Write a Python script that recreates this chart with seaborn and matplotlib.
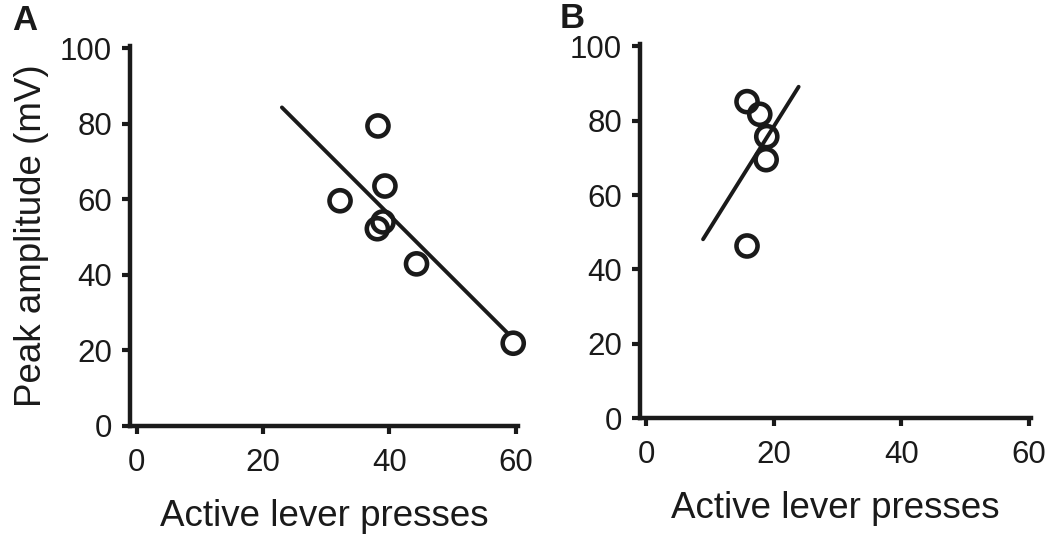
import seaborn as sns
import pandas as pd
import matplotlib.pyplot as plt

# panel A
a_presses = [38.2, 32.2, 39.3, 39.0, 38.1, 44.3, 59.6]
a_amplitude = [79.4, 59.6, 63.5, 54.0, 52.2, 42.9, 21.9]
a_fit_x = [23.0, 58.7]
a_fit_y = [84.3, 24.6]

# panel B
b_presses = [15.8, 17.8, 18.9, 18.8, 15.8]
b_amplitude = [85.1, 81.7, 75.7, 69.5, 46.3]
b_fit_x = [8.9, 23.9]
b_fit_y = [48.1, 89.1]

ticks_x = [0, 20, 40, 60]
ticks_y = [0, 20, 40, 60, 80, 100]

sns.set_style("ticks")
plt.rcParams["font.family"] = ["Liberation Sans", "DejaVu Sans"]

fig = plt.figure(figsize=(10.5, 5.41), dpi=100)
axA = fig.add_axes([0.124, 0.2126, 0.369, 0.702])
axB = fig.add_axes([0.6095, 0.227, 0.372, 0.691])

ink = "#1a1a1a"
panels = [
    (axA, a_presses, a_amplitude, a_fit_x, a_fit_y, True),
    (axB, b_presses, b_amplitude, b_fit_x, b_fit_y, False),
]

for ax, px, py, fx, fy, show_ylab in panels:
    dfPts = pd.DataFrame({"presses": px, "amplitude": py})
    dfFit = pd.DataFrame({"presses": fx, "amplitude": fy})
    sns.lineplot(data=dfFit, x="presses", y="amplitude", ax=ax,
                 color=ink, linewidth=2.8)
    sns.scatterplot(data=dfPts, x="presses", y="amplitude", ax=ax,
                    s=230, facecolor="none", edgecolor=ink,
                    linewidth=3.3, zorder=3, clip_on=False)
    ax.set_xlim(-1, 60.3)
    ax.set_ylim(0, 100.5)
    ax.set_xticks(ticks_x)
    ax.set_yticks(ticks_y)
    ax.tick_params(direction="out", length=6, width=3, labelsize=22.5,
                   pad=7, color=ink, labelcolor=ink)
    ax.tick_params(axis="x", pad=10)
    for side in ["left", "bottom"]:
        ax.spines[side].set_linewidth(3.2)
        ax.spines[side].set_color(ink)
    sns.despine(ax=ax)
    ax.set_xlabel("Active lever presses", fontsize=26.5, color=ink, labelpad=15)
    if show_ylab:
        ax.set_ylabel("Peak amplitude (mV)", fontsize=26.5, color=ink, labelpad=8)
    else:
        ax.set_ylabel("")

fig.text(0.012, 0.993, "A", fontsize=25, fontweight="bold", color=ink, va="top")
fig.text(0.533, 0.997, "B", fontsize=25, fontweight="bold", color=ink, va="top")

plt.savefig("out.png", dpi=100)
